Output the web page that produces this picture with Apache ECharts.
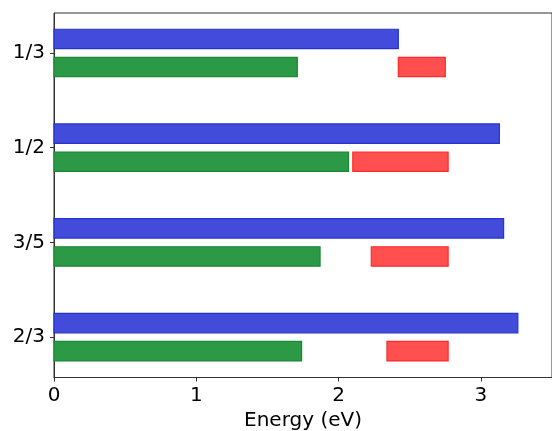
<!DOCTYPE html>
<html>
<head>
<meta charset="utf-8">
<script src="https://cdn.jsdelivr.net/npm/echarts@6/dist/echarts.min.js"></script>
<style>html,body{margin:0;padding:0;background:#fff}#c{width:552px;height:431px}</style>
</head>
<body>
<div id="c"></div>
<script>
const categories = ['1/3', '1/2', '3/5', '2/3'];
const blueEnd = [2.42, 3.13, 3.16, 3.26];
const greenEnd = [1.71, 2.07, 1.87, 1.74];
const redStart = [2.42, 2.10, 2.23, 2.34];
const redEnd = [2.75, 2.77, 2.77, 2.77];
const xTicks = [0, 1, 2, 3];

const chart = echarts.init(document.getElementById('c'));
const OFF = 0.148, H = 0.205;

function makeData(starts, ends, offset) {
  return categories.map((c, i) => [starts[i], ends[i], i + offset]);
}
function render(fill, stroke) {
  return function (params, api) {
    const a = api.coord([api.value(0), api.value(2) - H / 2]);
    const b = api.coord([api.value(1), api.value(2) + H / 2]);
    return {
      type: 'rect',
      shape: { x: a[0], y: Math.min(a[1], b[1]), width: b[0] - a[0], height: Math.abs(b[1] - a[1]) },
      style: { fill: fill, stroke: stroke, lineWidth: 1.2 }
    };
  };
}
const font = 'DejaVu Sans';
chart.setOption({
  animation: false,
  grid: { left: 54, top: 13, right: 0, bottom: 53.5, show: true, borderColor: '#333', borderWidth: 1,
          containLabel: false, outerBoundsMode: 'none' },
  xAxis: {
    type: 'value', min: 0, max: 3.5,
    name: 'Energy (eV)', nameLocation: 'middle', nameGap: 31,
    nameTextStyle: { fontFamily: font, fontSize: 20, color: '#000' },
    axisLine: { show: true, onZero: false, lineStyle: { color: '#333' } },
    axisTick: { show: true, length: 4, lineStyle: { color: '#333' }, customValues: xTicks },
    axisLabel: { fontFamily: font, fontSize: 20, color: '#000', margin: 8, customValues: xTicks },
    splitLine: { show: false }
  },
  yAxis: {
    type: 'value', min: -0.422, max: 3.426, inverse: true,
    axisLine: { show: true, onZero: false, lineStyle: { color: '#333' } },
    axisTick: { show: true, length: 4, lineStyle: { color: '#333' }, customValues: [0, 1, 2, 3] },
    axisLabel: {
      fontFamily: font, fontSize: 20, color: '#000', margin: 9,
      customValues: [0, 1, 2, 3],
      formatter: v => categories[Math.round(v)]
    },
    splitLine: { show: false }
  },
  series: [
    { type: 'custom', renderItem: render('#434bdb', '#2535cc'), encode: { x: [0, 1], y: 2 },
      data: makeData(categories.map(() => 0), blueEnd, -OFF) },
    { type: 'custom', renderItem: render('#2b9946', '#1a8a32'), encode: { x: [0, 1], y: 2 },
      data: makeData(categories.map(() => 0), greenEnd, OFF) },
    { type: 'custom', renderItem: render('#ff4f4f', '#ff2a2a'), encode: { x: [0, 1], y: 2 },
      data: makeData(redStart, redEnd, OFF) }
  ]
});
</script>
</body>
</html>
